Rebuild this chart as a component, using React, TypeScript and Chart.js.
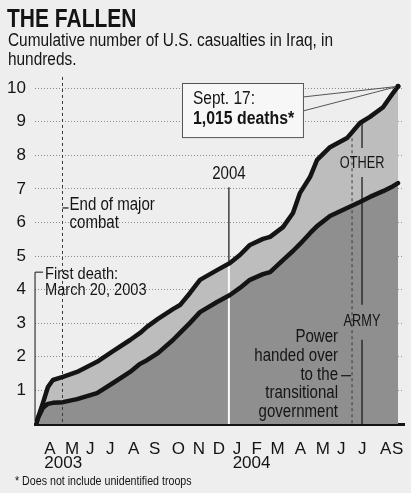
import { useEffect, useRef } from "react";
import { Chart, registerables } from "chart.js";

Chart.register(...registerables);

const FONT = '"Liberation Sans", Arial, Helvetica, sans-serif';
const INK = "#141414";
const PAPER = "#eeeeee";
const OTHER_FILL = "#bdbdbd";
const ARMY_FILL = "#8f8f8f";
const COND = 0.86; // horizontal condensing for the narrow newspaper face

// x = months since 1 March 2003 (fractional); y = cumulative deaths in hundreds
const months = [0.73, 0.82, 1.06, 1.3, 1.54, 2.02, 2.7, 3.66, 4.43, 5.25, 5.73, 6.06, 6.59, 7.31, 7.65, 8.13, 8.61, 9.43, 10.05, 10.53, 11.01, 11.64, 11.98, 12.6, 13.08, 13.42, 13.9, 14.24, 14.86, 15.68, 16.3, 16.78, 17.41, 17.89, 18.13];
const totalDeaths = [0, 0.18, 0.63, 1.1, 1.31, 1.4, 1.55, 1.85, 2.17, 2.5, 2.71, 2.89, 3.13, 3.42, 3.54, 3.9, 4.29, 4.58, 4.79, 5.03, 5.33, 5.51, 5.57, 5.86, 6.28, 6.88, 7.35, 7.86, 8.24, 8.51, 8.96, 9.14, 9.43, 9.85, 10.05];
const armyDeaths = [0, 0.18, 0.48, 0.6, 0.63, 0.65, 0.74, 0.92, 1.22, 1.55, 1.79, 1.9, 2.11, 2.5, 2.71, 3.01, 3.33, 3.63, 3.84, 4.05, 4.29, 4.46, 4.52, 4.88, 5.15, 5.36, 5.68, 5.89, 6.19, 6.43, 6.61, 6.76, 6.93, 7.08, 7.17];

const yTicks = [1, 2, 3, 4, 5, 6, 7, 8, 9, 10];
const monthTickPos = [1.125, 2.12, 3.13, 4.09, 5.15, 6.16, 7.25, 8.26, 9.22, 10.18, 11.09, 12.0, 13.16, 14.17, 15.2, 16.21, 17.26, 17.84];
const monthTickLabels = ["A", "M", "J", "J", "A", "S", "O", "N", "D", "J", "F", "M", "A", "M", "J", "J", "A", "S"];
const yearTickLabels = ["2003", "", "", "", "", "", "", "", "", "2004", "", "", "", "", "", "", "", ""];

// event dates (months since 1 March 2003)
const FIRST_DEATH = 0.68;
const COMBAT_END = 2.0;
const YEAR_2004 = 10.0;
const HANDOVER = 15.92;
const LABEL_DIVIDER = 16.4;

const X_MIN = 0.678;
const X_MAX = 18.418;
const Y_MAX = 10.12;

function interp(series: number[], m: number) {
  for (let i = 1; i < months.length; i++) {
    if (m <= months[i]) {
      const t = (m - months[i - 1]) / (months[i] - months[i - 1]);
      return series[i - 1] + t * (series[i] - series[i - 1]);
    }
  }
  return series[series.length - 1];
}

function seg(ctx: CanvasRenderingContext2D, x1: number, y1: number, x2: number, y2: number) {
  ctx.beginPath();
  ctx.moveTo(x1, y1);
  ctx.lineTo(x2, y2);
  ctx.stroke();
}

function txt(
  ctx: CanvasRenderingContext2D,
  s: string,
  x: number,
  y: number,
  size = 17,
  align: CanvasTextAlign = "left",
  weight = "normal",
  baseline: CanvasTextBaseline = "middle",
  cond = COND
) {
  ctx.save();
  ctx.font = `${weight} ${size}px ${FONT}`;
  ctx.textAlign = align;
  ctx.textBaseline = baseline;
  ctx.fillStyle = INK;
  ctx.translate(x, y);
  ctx.scale(cond, 1);
  ctx.fillText(s, 0, 0);
  ctx.restore();
}

const annotate = {
  id: "annotate",
  beforeDraw(chart: any) {
    const { ctx, width, height } = chart;
    ctx.save();
    ctx.fillStyle = PAPER;
    ctx.fillRect(0, 0, width, height);
    ctx.restore();
  },
  beforeDatasetsDraw(chart: any) {
    const { ctx } = chart;
    const { x, y } = chart.scales;
    const base = y.getPixelForValue(0);
    ctx.save();
    // Jan 1 2004 white line through the areas
    const x04 = x.getPixelForValue(YEAR_2004);
    ctx.strokeStyle = "#fafafa";
    ctx.lineWidth = 2;
    seg(ctx, x04, base, x04, y.getPixelForValue(interp(totalDeaths, YEAR_2004)));
    // dashed event lines
    ctx.setLineDash([3, 3]);
    ctx.strokeStyle = "#3a3a3a";
    ctx.lineWidth = 1;
    const xc = x.getPixelForValue(COMBAT_END);
    seg(ctx, xc, y.getPixelForValue(10.33), xc, base);
    const xh = x.getPixelForValue(HANDOVER);
    seg(ctx, xh, y.getPixelForValue(interp(totalDeaths, HANDOVER)), xh, base);
    ctx.setLineDash([]);
    // divider line between OTHER / ARMY labels
    const xd = x.getPixelForValue(LABEL_DIVIDER);
    const yTop = y.getPixelForValue(interp(totalDeaths, LABEL_DIVIDER));
    const yO = y.getPixelForValue(7.77);
    const yA = y.getPixelForValue(3.07);
    ctx.strokeStyle = INK;
    ctx.lineWidth = 1.2;
    seg(ctx, xd, yTop, xd, yO - 15);
    seg(ctx, xd, yO + 14, xd, yA - 16);
    seg(ctx, xd, yA + 19, xd, base);
    ctx.restore();
  },
  afterDraw(chart: any) {
    const { ctx } = chart;
    const { x, y } = chart.scales;
    const base = y.getPixelForValue(0);
    ctx.save();

    // Title and subtitle
    txt(ctx, "THE FALLEN", 7, 27, 25, "left", "bold", "alphabetic", 0.84);
    txt(ctx, "Cumulative number of U.S. casualties in Iraq, in", 8, 46, 18, "left", "normal", "alphabetic", 0.855);
    txt(ctx, "hundreds.", 8, 65, 18, "left", "normal", "alphabetic", 0.855);

    // First death bracket
    const xf = x.getPixelForValue(FIRST_DEATH);
    const yf = y.getPixelForValue(4.52);
    ctx.strokeStyle = INK;
    ctx.lineWidth = 1;
    seg(ctx, xf, yf, xf, base);
    seg(ctx, xf, yf, xf + 8, yf);
    txt(ctx, "First death:", xf + 10, y.getPixelForValue(4.46), 17);
    txt(ctx, "March 20, 2003", xf + 10, y.getPixelForValue(3.99), 17);

    // End of major combat
    const xc = x.getPixelForValue(COMBAT_END);
    const yc = y.getPixelForValue(6.43);
    ctx.lineWidth = 1.2;
    seg(ctx, xc, yc, xc + 6, yc);
    txt(ctx, "End of major", xc + 7, y.getPixelForValue(6.52), 17.5);
    txt(ctx, "combat", xc + 7, y.getPixelForValue(5.98), 17.5);

    // 2004 marker
    const x04 = x.getPixelForValue(YEAR_2004);
    ctx.lineWidth = 1.2;
    seg(ctx, x04, y.getPixelForValue(7.05), x04, y.getPixelForValue(interp(totalDeaths, YEAR_2004)) - 2);
    txt(ctx, "2004", x04, y.getPixelForValue(7.44), 17.5, "center");

    // Series labels
    const xd = x.getPixelForValue(LABEL_DIVIDER);
    txt(ctx, "OTHER", xd, y.getPixelForValue(7.77), 17, "center", "normal", "middle", 0.75);
    txt(ctx, "ARMY", xd, y.getPixelForValue(3.07), 17, "center", "normal", "middle", 0.75);

    // Handover note
    const xh = x.getPixelForValue(HANDOVER);
    const rx = xh - 14;
    const lines = ["Power", "handed over", "to the", "transitional", "government"];
    const top = y.getPixelForValue(2.58);
    lines.forEach((s, i) => txt(ctx, s, rx, top + i * 18.7, 17.5, "right"));
    ctx.lineWidth = 1.2;
    seg(ctx, rx + 3, top + 2 * 18.7 + 1, xh - 1, top + 2 * 18.7 + 1);

    // Callout box
    const last = months.length - 1;
    const ex = x.getPixelForValue(months[last]);
    const ey = y.getPixelForValue(totalDeaths[last]);
    const bx1 = x.getPixelForValue(7.745);
    const bx2 = x.getPixelForValue(13.56);
    const by1 = y.getPixelForValue(10.15);
    const by2 = y.getPixelForValue(8.54);
    ctx.strokeStyle = "#555";
    ctx.lineWidth = 1;
    seg(ctx, bx2, by1 + 14, ex, ey);
    seg(ctx, bx2, by1 + 28, ex, ey);
    ctx.fillStyle = "#f7f7f7";
    ctx.fillRect(bx1, by1, bx2 - bx1, by2 - by1);
    ctx.strokeRect(bx1 + 0.5, by1 + 0.5, bx2 - bx1, by2 - by1);
    txt(ctx, "Sept. 17:", bx1 + 11, by1 + 16, 18);
    txt(ctx, "1,015 deaths*", bx1 + 11, by1 + 36, 18, "left", "bold", "middle", 0.88);
    ctx.fillStyle = INK;
    ctx.beginPath();
    ctx.arc(ex, ey, 2.5, 0, Math.PI * 2);
    ctx.fill();

    // Footnote
    txt(ctx, "* Does not include unidentified troops", 15, 481, 13, "left", "normal", "middle", 0.82);
    ctx.restore();
  },
};

export default function App() {
  const ref = useRef<HTMLCanvasElement>(null);
  useEffect(() => {
    const canvas = ref.current!;
    const chart = new Chart(canvas, {
      type: "line",
      data: {
        datasets: [
          {
            label: "ARMY",
            data: months.map((m, i) => ({ x: m, y: armyDeaths[i] })),
            borderColor: INK,
            borderWidth: 4.5,
            backgroundColor: ARMY_FILL,
            fill: "origin",
            pointRadius: 0,
            tension: 0,
            borderJoinStyle: "round",
            borderCapStyle: "round",
          },
          {
            label: "OTHER",
            data: months.map((m, i) => ({ x: m, y: totalDeaths[i] })),
            borderColor: INK,
            borderWidth: 4.5,
            backgroundColor: OTHER_FILL,
            fill: "-1",
            pointRadius: 0,
            tension: 0,
            borderJoinStyle: "round",
            borderCapStyle: "round",
          },
        ],
      },
      options: {
        animation: false,
        responsive: false,
        devicePixelRatio: 1,
        layout: { padding: { top: 84, right: 7, bottom: 0, left: 0 } },
        plugins: {
          legend: { display: false },
          tooltip: { enabled: false },
          filler: { drawTime: "beforeDatasetsDraw" },
        } as any,
        scales: {
          x: {
            type: "linear",
            min: X_MIN,
            max: X_MAX,
            afterBuildTicks: (s: any) => {
              s.ticks = monthTickPos.map((v) => ({ value: v }));
            },
            afterFit: (s: any) => {
              s.height = 69;
            },
            ticks: {
              autoSkip: false,
              maxRotation: 0,
              minRotation: 0,
              align: "start",
              padding: 0,
              color: INK,
              font: { family: FONT, size: 17, lineHeight: 0.85 },
              callback: (_v: any, i: number) =>
                yearTickLabels[i] ? [monthTickLabels[i], yearTickLabels[i]] : monthTickLabels[i],
            },
            grid: {
              display: true,
              drawOnChartArea: false,
              drawTicks: true,
              tickLength: 18,
              tickColor: "rgba(0,0,0,0)",
              color: "rgba(0,0,0,0)",
            },
            border: { display: true, color: INK, width: 3 },
          },
          y: {
            type: "linear",
            min: 0,
            max: Y_MAX,
            afterBuildTicks: (s: any) => {
              s.ticks = yTicks.map((v) => ({ value: v }));
            },
            afterFit: (s: any) => {
              s.width = 35;
            },
            ticks: {
              padding: 9,
              color: INK,
              font: { family: FONT, size: 17 },
              callback: (v: any) => String(v),
            },
            grid: { color: "#8c8c8c", lineWidth: 1, drawTicks: false },
            border: { display: false, dash: [1, 2] },
          },
        },
      } as any,
      plugins: [annotate],
    });
    return () => chart.destroy();
  }, []);
  return (
    <div style={{ position: "fixed", left: 0, top: 0, width: 411, height: 493, background: PAPER }}>
      <canvas ref={ref} width={411} height={493} style={{ display: "block", width: 411, height: 493 }} />
    </div>
  );
}
